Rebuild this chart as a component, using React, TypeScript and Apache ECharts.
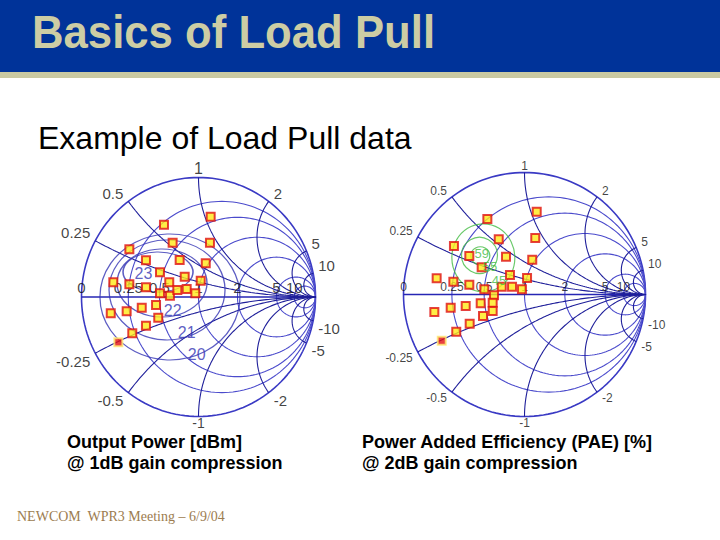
import React, { useEffect, useRef } from "react";
import * as echarts from "echarts";

// ---------------- data ----------------
// Smith chart grid values
const resistanceGrid = [0, 0.25, 0.5, 1, 2, 5, 10];
const reactanceGrid = [0.25, 0.5, 1, 2, 5, 10, -0.25, -0.5, -1, -2, -5, -10];
const resistanceTickValues = [0, 0.25, 0.5, 1, 2, 5, 10];
const resistanceTickLabels = ["0", "0.25", "0.5", "1", "2", "5", "10"];
const reactanceTickLabels = ["0.25", "0.5", "1", "2", "5", "10", "-0.25", "-0.5", "-1", "-2", "-5", "-10"];

// measured load points (reflection coefficient, re / im) - output power chart
const powerPoints: [number, number][] = [
  [0.104, 0.672], [-0.295, 0.605], [0.098, 0.454], [-0.221, 0.454], [-0.591, 0.399],
  [-0.449, 0.307], [-0.161, 0.31], [0.062, 0.282], [-0.329, 0.207], [-0.118, 0.17],
  [-0.728, 0.123], [-0.591, 0.106], [-0.449, 0.081], [-0.25, 0.123], [0.019, 0.136],
  [-0.329, 0.031], [-0.244, 0.011], [-0.181, 0.059], [-0.101, 0.067], [-0.027, 0.031],
  [-0.75, -0.136], [-0.614, -0.12], [-0.485, -0.09], [-0.363, -0.067], [-0.344, -0.173],
  [-0.449, -0.24], [-0.566, -0.304],
];
const powerPointsStart: [number, number][] = [[-0.685, -0.379]];

// measured load points - PAE chart
const paePoints: [number, number][] = [
  [0.101, 0.679], [-0.307, 0.619], [-0.213, 0.452], [0.089, 0.463], [-0.583, 0.398],
  [-0.456, 0.316], [-0.153, 0.31], [0.064, 0.285], [-0.354, 0.223], [-0.12, 0.16],
  [0.021, 0.135], [-0.726, 0.133], [-0.588, 0.105], [-0.456, 0.08], [-0.332, 0.043],
  [-0.188, 0.064], [-0.103, 0.064], [-0.021, 0.043], [-0.252, -0.007], [-0.745, -0.143],
  [-0.61, -0.108], [-0.486, -0.094], [-0.362, -0.072], [-0.263, -0.067], [-0.263, -0.135],
  [-0.343, -0.176], [-0.453, -0.239], [-0.564, -0.305],
];
const paePointsStart: [number, number][] = [[-0.684, -0.379]];

// contours
const powerContourLevels = ["23", "22", "21", "20"];
const powerContourCenters: [number, number][] = [[-0.346, 0.209], [-0.312, 0.117], [-0.269, 0.059], [-0.244, 0.0]];
const powerContourLabelAt: [number, number][] = [[-0.47, 0.2], [-0.221, -0.109], [-0.101, -0.301], [-0.015, -0.485]];
const paeContourLevels = ["59", "55", "45"];
const paeContourCenters: [number, number][] = [[-0.365, 0.317], [-0.372, 0.321], [-0.34, 0.301]];
const paeContourLabelAt: [number, number][] = [[-0.354, 0.34], [-0.285, 0.23], [-0.211, 0.111]];

// ---------------- styles ----------------
const powerContourSizes = [[70, 40], [90, 68], [116, 100], [140, 126]];
const paeContourSizes = [[19, 18], [36, 36], [63, 68]];
const FONT = "'Liberation Sans', Arial, Helvetica, sans-serif";

// Smith chart geometry
function resistanceCircle(r: number): number[][] {
  const c = r / (1 + r);
  const R = 1 / (1 + r);
  const pts: number[][] = [];
  const N = 160;
  for (let i = 0; i <= N; i++) {
    const t = (2 * Math.PI * i) / N;
    pts.push([c + R * Math.cos(t), R * Math.sin(t)]);
  }
  return pts;
}
function reactanceArc(x: number): number[][] {
  const pts: number[][] = [];
  const N = 120;
  for (let i = 0; i < N; i++) {
    const u = ((Math.PI / 2) * i) / N;
    const r = Math.tan(u);
    const D = (r + 1) * (r + 1) + x * x;
    pts.push([(r * r + x * x - 1) / D, (2 * x) / D]);
  }
  pts.push([1, 0]);
  return pts;
}
function reactanceEdge(x: number): number[] {
  const d = x * x + 1;
  return [(x * x - 1) / d, (2 * x) / d];
}

type ChartCfg = {
  idx: number;
  font: number;
  edgeFont: number;
  off: number;
  points: [number, number][];
  start: [number, number][];
  contourLevels: string[];
  contourCenters: [number, number][];
  contourSizes: number[][];
  contourLabelAt: [number, number][];
  contourColor: string;
  contourFont: number;
};

function smithSeries(cfg: ChartCfg): any[] {
  const ax = { xAxisIndex: cfg.idx, yAxisIndex: cfg.idx };
  const out: any[] = [];
  resistanceGrid.forEach((r) => {
    out.push({
      type: "line", ...ax, data: resistanceCircle(r), symbol: "none", silent: true, z: 1,
      lineStyle: { color: r === 0 ? "#3a3ac4" : "#4b4bcc", width: r === 0 ? 1.6 : 1.1 },
    });
  });
  out.push({
    type: "line", ...ax, data: [[-1, 0], [1, 0]], symbol: "none", silent: true, z: 1,
    lineStyle: { color: "#2626b4", width: 1.6 },
  });
  reactanceGrid.forEach((x) => {
    out.push({
      type: "line", ...ax, data: reactanceArc(x), symbol: "none", silent: true, z: 1,
      lineStyle: { color: "#1f1f9a", width: 1.1 },
    });
  });
  // contours
  out.push({
    type: "scatter", ...ax, clip: false, silent: true, z: 2, symbol: "circle",
    data: cfg.contourCenters.map((c, i) => ({ value: c, symbolSize: cfg.contourSizes[i] })),
    itemStyle: { color: "rgba(0,0,0,0)", borderColor: cfg.contourColor, borderWidth: 1.2 },
  });
  out.push({
    type: "scatter", ...ax, clip: false, silent: true, z: 6, symbolSize: 0,
    data: cfg.contourLabelAt.map((c, i) => [c[0], c[1], cfg.contourLevels[i]]),
    label: {
      show: true, position: "inside", formatter: (p: any) => p.value[2],
      color: cfg.contourColor, fontSize: cfg.contourFont, fontFamily: FONT,
    },
  });
  // resistance tick labels
  out.push({
    type: "scatter", ...ax, clip: false, silent: true, z: 3, symbolSize: 0,
    data: resistanceTickValues.map((r, i) => [(r - 1) / (r + 1), 0, resistanceTickLabels[i]]),
    label: {
      show: true, position: "top", distance: 2, formatter: (p: any) => p.value[2],
      color: "#111", fontSize: cfg.font, fontFamily: FONT,
    },
  });
  // reactance tick labels
  out.push({
    type: "scatter", ...ax, clip: false, silent: true, z: 3, symbolSize: 0,
    data: reactanceGrid.map((x, i) => {
      const p = reactanceEdge(x);
      const edge = Math.abs(x) === 1;
      return {
        value: [p[0], p[1], reactanceTickLabels[i]],
        label: edge
          ? { position: x > 0 ? "top" : "bottom", distance: x > 0 ? 1 : 0, fontSize: x > 0 ? cfg.edgeFont : cfg.edgeFontBottom }
          : { position: p[0] < 0 ? "left" : "right", distance: 5, offset: [0, x > 0 ? -cfg.off : cfg.off] },
      };
    }),
    label: {
      show: true, formatter: (p: any) => p.value[2],
      color: "#111", fontSize: cfg.font, fontFamily: FONT,
    },
  });
  // measured points
  out.push({
    type: "scatter", ...ax, clip: false, silent: true, z: 5, symbol: "rect", symbolSize: 8,
    data: cfg.points,
    itemStyle: { color: "#ffe818", borderColor: "#e01010", borderWidth: 2 },
  });
  out.push({
    type: "scatter", ...ax, clip: false, silent: true, z: 5, symbol: "rect", symbolSize: 8,
    data: cfg.start,
    itemStyle: { color: "#e41010", borderColor: "#ffe870", borderWidth: 2 },
  });
  return out;
}

export default function App() {
  const ref = useRef<HTMLDivElement>(null);
  useEffect(() => {
    if (!ref.current) return;
    const chart = echarts.init(ref.current, undefined, { renderer: "svg" });
    const axis = (gi: number) => ({
      type: "value", gridIndex: gi, min: -1.15, max: 1.15, show: false,
      splitLine: { show: false },
    });
    const option: any = {
      animation: false,
      backgroundColor: "#ffffff",
      grid: [
        { left: 63.95, top: 159.57, width: 269.1, height: 274.85 },
        { left: 385.35, top: 154.2, width: 278.3, height: 280.6 },
      ],
      xAxis: [axis(0), axis(1)],
      yAxis: [axis(0), axis(1)],
      graphic: [
        { type: "rect", shape: { x: 0, y: 0, width: 720, height: 72 }, style: { fill: "#003399" }, silent: true },
        { type: "rect", shape: { x: 0, y: 72, width: 720, height: 6 }, style: { fill: "#c9c9a2" }, silent: true },
        {
          type: "text", x: 32, y: 32, scaleX: 0.95, silent: true,
          style: { text: "Basics of Load Pull", fill: "#cdcda4", fontSize: 46, fontWeight: "bold", fontFamily: FONT, verticalAlign: "middle" },
        },
        {
          type: "text", x: 38, y: 138, silent: true,
          style: { text: "Example of Load Pull data", fill: "#000", fontSize: 32, fontFamily: FONT, verticalAlign: "middle" },
        },
        {
          type: "text", x: 67, y: 442, silent: true,
          style: { text: "Output Power [dBm]", fill: "#000", fontSize: 18, fontWeight: "bold", fontFamily: FONT, verticalAlign: "middle" },
        },
        {
          type: "text", x: 67, y: 463, silent: true,
          style: { text: "@ 1dB gain compression", fill: "#000", fontSize: 18, fontWeight: "bold", fontFamily: FONT, verticalAlign: "middle" },
        },
        {
          type: "text", x: 362, y: 442, silent: true,
          style: { text: "Power Added Efficiency (PAE) [%]", fill: "#000", fontSize: 18, fontWeight: "bold", fontFamily: FONT, verticalAlign: "middle" },
        },
        {
          type: "text", x: 362, y: 463, silent: true,
          style: { text: "@ 2dB gain compression", fill: "#000", fontSize: 18, fontWeight: "bold", fontFamily: FONT, verticalAlign: "middle" },
        },
        {
          type: "text", x: 17, y: 516, silent: true,
          style: { text: "NEWCOM  WPR3 Meeting – 6/9/04", fill: "#9c7c50", fontSize: 14, fontFamily: "'Liberation Serif', 'Times New Roman', serif", verticalAlign: "middle" },
        },
      ],
      series: [
        ...smithSeries({
          idx: 0, font: 15, edgeFont: 16, edgeFontBottom: 14, off: 8,
          points: powerPoints, start: powerPointsStart,
          contourLevels: powerContourLevels, contourCenters: powerContourCenters,
          contourSizes: powerContourSizes, contourLabelAt: powerContourLabelAt,
          contourColor: "#3535b4", contourFont: 16,
        } as any),
        ...smithSeries({
          idx: 1, font: 12, edgeFont: 12, edgeFontBottom: 12, off: 6,
          points: paePoints, start: paePointsStart,
          contourLevels: paeContourLevels, contourCenters: paeContourCenters,
          contourSizes: paeContourSizes, contourLabelAt: paeContourLabelAt,
          contourColor: "#44bb44", contourFont: 13,
        } as any),
      ],
    };
    chart.setOption(option);
    return () => chart.dispose();
  }, []);
  return <div ref={ref} style={{ position: "absolute", left: 0, top: 0, width: 720, height: 540 }} />;
}
